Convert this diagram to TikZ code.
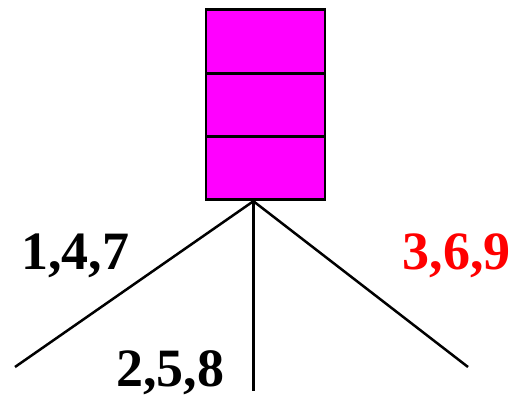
\documentclass[tikz,border=0pt]{standalone}
\usepackage{fontspec}
\setmainfont{Liberation Serif}
\usetikzlibrary{positioning}
\definecolor{cellfill}{RGB}{255,0,255}
\definecolor{rightred}{RGB}{255,0,0}

\begin{document}
\begin{tikzpicture}[
  x=1pt, y=-1pt,
  node distance=-2.8pt,
  cell/.style={draw, line width=2.8pt, fill=cellfill, minimum width=119pt, minimum height=63.3pt, inner sep=0pt},
  digits/.style={font=\fontsize{54}{60}\selectfont\bfseries, inner sep=0pt},
  branch/.style={line width=2.5pt}
]
\useasboundingbox (0,0) rectangle (520,398);
\node[cell, anchor=north west] (top) at (204.5,8.5) {};
\node[cell, below=of top] (mid) {};
\node[cell, below=of mid] (bot) {};

% the branches meet left of the box centre
\coordinate (apex) at ([xshift=-12pt]bot.south);
\coordinate (leftend) at (15,367);
\coordinate (midend) at (apex |- 0,391);
\coordinate (rightend) at (468,367);
\draw[branch] (apex) -- (leftend);
\draw[branch] (apex) -- (midend);
\draw[branch] (apex) -- (rightend);

\node[digits, anchor=base west] (left) at (21,270) {1,4,7};
\node[digits, anchor=base west] (middle) at (116,387) {2,5,8};
\node[digits, anchor=base east, text=rightred] (right) at (511,270) {3,6,9};
\end{tikzpicture}
\end{document}
